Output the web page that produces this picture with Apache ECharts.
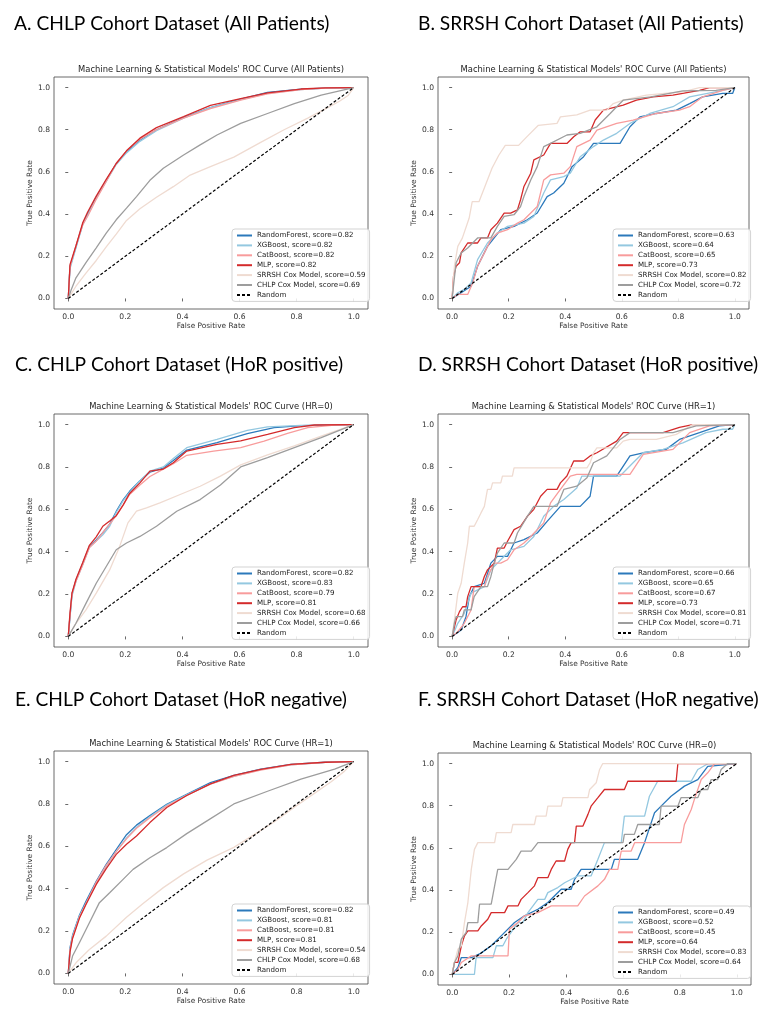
<!DOCTYPE html>
<html><head><meta charset="utf-8">
<script src="https://cdn.jsdelivr.net/npm/echarts@6/dist/echarts.min.js"></script>
<style>html,body{margin:0;padding:0;background:#fff}#c{width:774px;height:1012px}</style>
</head><body><div id="c"></div>
<script>
// ---------- tick labels ----------
const xTicks = [0, 0.2, 0.4, 0.6, 0.8, 1.0];
const yTicks = [0, 0.2, 0.4, 0.6, 0.8, 1.0];
const modelNames = ['RandomForest', 'XGBoost', 'CatBoost', 'MLP', 'SRRSH Cox Model', 'CHLP Cox Model'];
const randomLine = [[0, 0], [1, 1]];

// ---------- A. CHLP, all patients ----------
const A_scores = [0.82, 0.82, 0.82, 0.82, 0.59, 0.69];
const A_rf = [[0,0],[0.006,0.15],[0.027,0.245],[0.051,0.355],[0.068,0.40],[0.098,0.48],[0.133,0.56],[0.168,0.64],[0.204,0.695],[0.251,0.75],[0.309,0.80],[0.404,0.858],[0.498,0.905],[0.604,0.945],[0.698,0.977],[0.815,0.992],[0.9,0.997],[1,1]];
const A_xgb = [[0,0],[0.006,0.14],[0.027,0.24],[0.051,0.35],[0.068,0.395],[0.098,0.475],[0.133,0.555],[0.168,0.635],[0.204,0.69],[0.251,0.745],[0.309,0.795],[0.404,0.855],[0.498,0.905],[0.604,0.943],[0.698,0.972],[0.815,0.99],[0.9,0.997],[1,1]];
const A_cat = [[0,0],[0.006,0.15],[0.027,0.25],[0.051,0.35],[0.068,0.39],[0.098,0.47],[0.133,0.555],[0.168,0.64],[0.204,0.70],[0.251,0.755],[0.309,0.80],[0.404,0.855],[0.498,0.9],[0.604,0.94],[0.698,0.97],[0.815,0.99],[0.9,0.997],[1,1]];
const A_mlp = [[0,0],[0.006,0.16],[0.027,0.25],[0.051,0.36],[0.068,0.41],[0.098,0.485],[0.133,0.565],[0.168,0.64],[0.204,0.70],[0.251,0.76],[0.309,0.81],[0.404,0.862],[0.498,0.915],[0.604,0.947],[0.698,0.975],[0.815,0.993],[0.9,0.998],[1,1]];
const A_srrsh = [[0,0],[0.027,0.058],[0.062,0.12],[0.098,0.18],[0.133,0.245],[0.168,0.305],[0.204,0.37],[0.251,0.425],[0.309,0.48],[0.368,0.53],[0.427,0.585],[0.498,0.625],[0.58,0.67],[0.674,0.74],[0.756,0.80],[0.839,0.855],[0.909,0.905],[0.95,0.935],[0.98,0.962],[1,1]];
const A_chlp = [[0,0],[0.01,0.04],[0.027,0.098],[0.062,0.17],[0.098,0.24],[0.133,0.31],[0.168,0.373],[0.204,0.428],[0.239,0.483],[0.286,0.56],[0.333,0.617],[0.404,0.68],[0.462,0.728],[0.521,0.775],[0.604,0.83],[0.698,0.877],[0.792,0.924],[0.886,0.964],[1,1]];

// ---------- B. SRRSH, all patients ----------
const B_scores = [0.63, 0.64, 0.65, 0.73, 0.82, 0.72];
const B_rf = [[0,0],[0.032,0.027],[0.067,0.058],[0.09,0.153],[0.125,0.247],[0.172,0.326],[0.219,0.342],[0.266,0.373],[0.301,0.405],[0.336,0.483],[0.359,0.5],[0.395,0.546],[0.424,0.625],[0.465,0.672],[0.5,0.735],[0.594,0.735],[0.629,0.814],[0.664,0.861],[0.722,0.877],[0.793,0.893],[0.84,0.924],[0.886,0.956],[0.957,0.972],[0.992,0.972],[1,1]];
const B_xgb = [[0,0],[0.02,0.027],[0.043,0.043],[0.067,0.074],[0.09,0.184],[0.125,0.263],[0.16,0.31],[0.196,0.342],[0.254,0.357],[0.289,0.389],[0.324,0.5],[0.348,0.562],[0.395,0.578],[0.418,0.594],[0.453,0.672],[0.5,0.72],[0.535,0.751],[0.582,0.783],[0.629,0.83],[0.699,0.877],[0.781,0.909],[0.84,0.956],[0.957,0.987],[1,1]];
const B_cat = [[0,0],[0.02,0.019],[0.055,0.019],[0.073,0.074],[0.09,0.153],[0.114,0.216],[0.137,0.279],[0.16,0.31],[0.196,0.326],[0.231,0.357],[0.254,0.373],[0.278,0.405],[0.301,0.436],[0.324,0.562],[0.348,0.586],[0.395,0.594],[0.418,0.625],[0.441,0.72],[0.488,0.751],[0.512,0.798],[0.582,0.83],[0.64,0.846],[0.722,0.877],[0.804,0.893],[0.84,0.909],[0.886,0.956],[0.957,0.987],[1,1]];
const B_mlp = [[0,0],[0.005,0.106],[0.014,0.153],[0.026,0.169],[0.032,0.216],[0.055,0.263],[0.09,0.263],[0.102,0.287],[0.125,0.287],[0.137,0.326],[0.16,0.357],[0.184,0.405],[0.207,0.405],[0.231,0.42],[0.242,0.468],[0.254,0.531],[0.278,0.594],[0.289,0.657],[0.324,0.68],[0.348,0.735],[0.406,0.735],[0.43,0.767],[0.453,0.79],[0.488,0.79],[0.506,0.846],[0.535,0.893],[0.605,0.917],[0.652,0.94],[0.711,0.956],[0.781,0.964],[0.875,0.987],[0.91,1],[1,1]];
const B_srrsh = [[0,0],[0.003,0.06],[0.008,0.153],[0.02,0.247],[0.036,0.286],[0.06,0.38],[0.071,0.459],[0.095,0.459],[0.118,0.538],[0.141,0.617],[0.165,0.679],[0.188,0.726],[0.235,0.726],[0.264,0.766],[0.305,0.821],[0.371,0.83],[0.383,0.861],[0.441,0.87],[0.488,0.893],[0.547,0.893],[0.57,0.924],[0.605,0.94],[0.687,0.964],[0.816,0.98],[0.875,1],[1,1]];
const B_chlp = [[0,0],[0.006,0.074],[0.014,0.169],[0.032,0.216],[0.055,0.239],[0.09,0.287],[0.137,0.287],[0.16,0.342],[0.184,0.389],[0.219,0.397],[0.242,0.436],[0.254,0.483],[0.278,0.562],[0.301,0.625],[0.324,0.72],[0.348,0.735],[0.406,0.775],[0.453,0.783],[0.512,0.814],[0.559,0.877],[0.582,0.909],[0.605,0.94],[0.703,0.956],[0.816,0.984],[0.933,0.987],[1,1]];

// ---------- C. CHLP, HoR positive ----------
const C_scores = [0.82, 0.83, 0.79, 0.81, 0.68, 0.66];
const C_rf = [[0,0],[0.006,0.093],[0.013,0.2],[0.027,0.265],[0.051,0.345],[0.074,0.425],[0.098,0.455],[0.121,0.49],[0.145,0.53],[0.168,0.59],[0.192,0.645],[0.215,0.685],[0.251,0.735],[0.286,0.775],[0.333,0.795],[0.368,0.83],[0.415,0.88],[0.521,0.915],[0.627,0.957],[0.721,0.986],[0.815,0.995],[1,1]];
const C_xgb = [[0,0],[0.006,0.09],[0.013,0.19],[0.027,0.26],[0.051,0.34],[0.074,0.42],[0.098,0.45],[0.121,0.48],[0.145,0.52],[0.168,0.585],[0.192,0.64],[0.215,0.68],[0.251,0.735],[0.286,0.78],[0.333,0.80],[0.368,0.84],[0.415,0.891],[0.521,0.93],[0.627,0.973],[0.698,0.989],[0.815,0.996],[1,1]];
const C_cat = [[0,0],[0.006,0.1],[0.013,0.2],[0.027,0.26],[0.051,0.34],[0.074,0.42],[0.098,0.45],[0.121,0.49],[0.145,0.53],[0.168,0.57],[0.192,0.62],[0.215,0.67],[0.251,0.715],[0.286,0.755],[0.333,0.79],[0.368,0.815],[0.415,0.855],[0.509,0.875],[0.604,0.891],[0.686,0.922],[0.768,0.959],[0.839,0.986],[0.933,0.998],[1,1]];
const C_mlp = [[0,0],[0.006,0.11],[0.013,0.205],[0.027,0.27],[0.051,0.35],[0.074,0.43],[0.098,0.47],[0.121,0.52],[0.145,0.545],[0.168,0.57],[0.192,0.62],[0.215,0.675],[0.251,0.725],[0.286,0.78],[0.333,0.79],[0.368,0.82],[0.415,0.875],[0.521,0.907],[0.604,0.923],[0.698,0.954],[0.792,0.986],[0.862,0.998],[1,1]];
const C_srrsh = [[0,0],[0.027,0.062],[0.062,0.125],[0.098,0.204],[0.145,0.314],[0.18,0.425],[0.209,0.536],[0.239,0.591],[0.274,0.607],[0.321,0.63],[0.392,0.67],[0.462,0.709],[0.533,0.757],[0.604,0.81],[0.698,0.857],[0.792,0.9],[0.886,0.946],[1,1]];
const C_chlp = [[0,0],[0.027,0.062],[0.062,0.156],[0.098,0.251],[0.133,0.33],[0.168,0.409],[0.204,0.441],[0.251,0.472],[0.309,0.52],[0.38,0.591],[0.462,0.646],[0.533,0.715],[0.604,0.8],[0.698,0.844],[0.792,0.891],[0.886,0.938],[1,1]];

// ---------- D. SRRSH, HoR positive ----------
const D_scores = [0.66, 0.65, 0.67, 0.73, 0.81, 0.71];
const D_rf = [[0,0],[0.032,0.03],[0.049,0.093],[0.061,0.188],[0.078,0.235],[0.114,0.251],[0.137,0.346],[0.16,0.378],[0.196,0.378],[0.219,0.441],[0.254,0.457],[0.301,0.488],[0.336,0.543],[0.383,0.614],[0.453,0.614],[0.488,0.662],[0.5,0.757],[0.582,0.757],[0.629,0.852],[0.676,0.867],[0.757,0.883],[0.804,0.93],[0.875,0.962],[0.945,0.994],[1,1]];
const D_xgb = [[0,0],[0.02,0.062],[0.043,0.109],[0.067,0.204],[0.114,0.235],[0.137,0.314],[0.172,0.362],[0.207,0.409],[0.254,0.425],[0.289,0.472],[0.324,0.567],[0.359,0.614],[0.395,0.646],[0.441,0.701],[0.459,0.757],[0.594,0.757],[0.64,0.82],[0.676,0.867],[0.746,0.883],[0.816,0.914],[0.898,0.962],[0.957,0.978],[0.992,0.978],[1,1]];
const D_cat = [[0,0],[0.02,0.022],[0.043,0.062],[0.067,0.125],[0.078,0.235],[0.114,0.235],[0.125,0.283],[0.149,0.346],[0.172,0.346],[0.196,0.362],[0.219,0.409],[0.254,0.441],[0.278,0.472],[0.324,0.536],[0.348,0.63],[0.383,0.694],[0.418,0.757],[0.441,0.765],[0.629,0.765],[0.676,0.859],[0.781,0.883],[0.84,0.962],[0.91,0.994],[1,1]];
const D_mlp = [[0,0],[0.014,0.077],[0.026,0.117],[0.037,0.14],[0.049,0.14],[0.055,0.188],[0.067,0.235],[0.102,0.235],[0.114,0.283],[0.125,0.314],[0.149,0.346],[0.16,0.417],[0.184,0.417],[0.196,0.449],[0.219,0.504],[0.242,0.52],[0.266,0.567],[0.289,0.6],[0.313,0.662],[0.336,0.694],[0.371,0.694],[0.383,0.725],[0.406,0.757],[0.43,0.828],[0.465,0.828],[0.488,0.852],[0.512,0.867],[0.582,0.922],[0.605,0.962],[0.746,0.962],[0.804,0.987],[0.851,1],[1,1]];
const D_srrsh = [[0,0],[0.008,0.077],[0.02,0.204],[0.032,0.251],[0.043,0.346],[0.055,0.441],[0.061,0.52],[0.078,0.52],[0.09,0.551],[0.102,0.583],[0.114,0.614],[0.125,0.694],[0.137,0.694],[0.143,0.725],[0.172,0.725],[0.178,0.757],[0.213,0.757],[0.219,0.796],[0.477,0.796],[0.488,0.82],[0.5,0.867],[0.512,0.89],[0.582,0.89],[0.605,0.922],[0.629,0.93],[0.722,0.93],[0.793,0.954],[0.851,1],[1,1]];
const D_chlp = [[0,0],[0.008,0.062],[0.014,0.093],[0.037,0.093],[0.043,0.125],[0.067,0.125],[0.078,0.188],[0.102,0.235],[0.125,0.235],[0.137,0.283],[0.149,0.346],[0.16,0.393],[0.184,0.441],[0.219,0.441],[0.231,0.488],[0.266,0.567],[0.289,0.614],[0.371,0.614],[0.395,0.694],[0.441,0.709],[0.477,0.749],[0.5,0.82],[0.547,0.852],[0.57,0.89],[0.594,0.93],[0.629,0.962],[0.781,0.962],[0.863,0.994],[1,1]];

// ---------- E. CHLP, HoR negative ----------
const E_scores = [0.82, 0.81, 0.81, 0.81, 0.54, 0.68];
const E_rf = [[0,0],[0.006,0.12],[0.015,0.18],[0.039,0.275],[0.062,0.34],[0.098,0.435],[0.133,0.515],[0.168,0.585],[0.204,0.655],[0.239,0.70],[0.286,0.745],[0.345,0.798],[0.415,0.846],[0.498,0.901],[0.58,0.935],[0.674,0.964],[0.78,0.987],[0.9,0.997],[1,1]];
const E_xgb = [[0,0],[0.006,0.11],[0.015,0.175],[0.039,0.27],[0.062,0.33],[0.098,0.425],[0.133,0.505],[0.168,0.575],[0.204,0.64],[0.239,0.69],[0.286,0.74],[0.345,0.795],[0.415,0.843],[0.498,0.895],[0.58,0.93],[0.674,0.962],[0.78,0.985],[0.9,0.996],[1,1]];
const E_cat = [[0,0],[0.006,0.11],[0.015,0.17],[0.039,0.265],[0.062,0.33],[0.098,0.43],[0.133,0.51],[0.168,0.575],[0.204,0.635],[0.239,0.685],[0.286,0.735],[0.345,0.79],[0.415,0.84],[0.498,0.893],[0.58,0.93],[0.674,0.96],[0.78,0.985],[0.9,0.996],[1,1]];
const E_mlp = [[0,0],[0.006,0.1],[0.015,0.165],[0.039,0.26],[0.062,0.325],[0.098,0.42],[0.133,0.495],[0.168,0.562],[0.204,0.61],[0.239,0.649],[0.286,0.712],[0.345,0.783],[0.415,0.84],[0.498,0.895],[0.58,0.935],[0.674,0.963],[0.78,0.987],[0.9,0.997],[1,1]];
const E_srrsh = [[0,0],[0.027,0.05],[0.074,0.113],[0.133,0.176],[0.204,0.265],[0.262,0.33],[0.333,0.405],[0.404,0.47],[0.486,0.535],[0.58,0.595],[0.651,0.655],[0.721,0.715],[0.792,0.785],[0.862,0.85],[0.921,0.905],[0.968,0.955],[1,1]];
const E_chlp = [[0,0],[0.015,0.082],[0.039,0.145],[0.074,0.239],[0.109,0.334],[0.145,0.381],[0.192,0.444],[0.227,0.491],[0.286,0.546],[0.345,0.594],[0.415,0.66],[0.486,0.72],[0.58,0.8],[0.698,0.86],[0.815,0.917],[0.933,0.964],[1,1]];

// ---------- F. SRRSH, HoR negative ----------
const F_scores = [0.49, 0.52, 0.45, 0.64, 0.83, 0.64];
const F_rf = [[0,0],[0.02,0.033],[0.032,0.08],[0.067,0.08],[0.1,0.1],[0.137,0.136],[0.172,0.183],[0.219,0.246],[0.254,0.278],[0.301,0.309],[0.336,0.341],[0.383,0.404],[0.418,0.404],[0.43,0.451],[0.453,0.498],[0.559,0.498],[0.57,0.546],[0.652,0.546],[0.676,0.625],[0.711,0.767],[0.734,0.798],[0.769,0.845],[0.816,0.893],[0.863,0.924],[0.898,0.987],[1,1]];
const F_xgb = [[0,0],[0.078,0],[0.084,0.08],[0.143,0.08],[0.155,0.136],[0.178,0.136],[0.19,0.167],[0.207,0.199],[0.231,0.246],[0.248,0.246],[0.266,0.293],[0.301,0.356],[0.325,0.356],[0.336,0.388],[0.371,0.412],[0.395,0.435],[0.441,0.467],[0.488,0.467],[0.512,0.546],[0.535,0.625],[0.594,0.625],[0.605,0.751],[0.676,0.751],[0.693,0.845],[0.722,0.916],[0.84,0.916],[0.863,0.972],[0.9,1],[1,1]];
const F_cat = [[0,0],[0.02,0.025],[0.032,0.057],[0.067,0.088],[0.196,0.088],[0.201,0.215],[0.231,0.246],[0.254,0.278],[0.301,0.293],[0.348,0.325],[0.441,0.325],[0.465,0.372],[0.512,0.42],[0.535,0.451],[0.553,0.498],[0.582,0.498],[0.594,0.585],[0.629,0.585],[0.641,0.625],[0.804,0.625],[0.816,0.711],[0.84,0.782],[0.851,0.83],[0.875,0.924],[0.898,0.956],[0.922,1],[1,1]];
const F_mlp = [[0,0],[0.008,0.057],[0.02,0.057],[0.032,0.136],[0.043,0.183],[0.055,0.207],[0.09,0.207],[0.102,0.23],[0.125,0.262],[0.137,0.293],[0.184,0.293],[0.196,0.325],[0.231,0.325],[0.242,0.356],[0.266,0.388],[0.289,0.42],[0.301,0.459],[0.336,0.459],[0.348,0.498],[0.365,0.538],[0.395,0.538],[0.406,0.593],[0.418,0.625],[0.43,0.625],[0.436,0.703],[0.459,0.703],[0.477,0.759],[0.488,0.798],[0.512,0.838],[0.535,0.877],[0.605,0.877],[0.617,0.916],[0.787,0.916],[0.793,1],[1,1]];
const F_srrsh = [[0,0],[0.008,0.057],[0.02,0.12],[0.032,0.136],[0.043,0.246],[0.055,0.341],[0.067,0.498],[0.078,0.593],[0.09,0.625],[0.149,0.625],[0.155,0.672],[0.207,0.672],[0.213,0.711],[0.289,0.711],[0.295,0.751],[0.33,0.751],[0.336,0.798],[0.383,0.798],[0.389,0.838],[0.477,0.838],[0.483,0.877],[0.506,0.909],[0.518,0.972],[0.529,1],[1,1]];
const F_chlp = [[0,0],[0.008,0.057],[0.02,0.088],[0.032,0.167],[0.049,0.199],[0.055,0.246],[0.09,0.246],[0.096,0.333],[0.137,0.333],[0.149,0.42],[0.16,0.498],[0.196,0.498],[0.225,0.546],[0.242,0.585],[0.278,0.585],[0.301,0.625],[0.6,0.625],[0.605,0.664],[0.64,0.664],[0.652,0.711],[0.728,0.711],[0.734,0.798],[0.793,0.798],[0.804,0.838],[0.863,0.838],[0.875,0.877],[0.898,0.877],[0.91,0.924],[0.933,0.924],[0.945,0.972],[0.968,1],[1,1]];

// ---------- styling ----------
const colors = ['#2b79bb', '#94c8e0', '#f89c9c', '#d42a2b', '#efdbd1', '#9d9d9d'];
const panelFont = 'Lato';
const plotFont = 'DejaVu Sans';

const panels = [
  { label: 'A. CHLP Cohort Dataset (All Patients)', sub: "Machine Learning & Statistical Models' ROC Curve (All Patients)",
    curves: [A_rf, A_xgb, A_cat, A_mlp, A_srrsh, A_chlp], scores: A_scores,
    grid: { left: 54, top: 77, width: 314, height: 232 }, labelPos: [14, 11], legendPos: [232, 229] },
  { label: 'B. SRRSH Cohort Dataset (All Patients)', sub: "Machine Learning & Statistical Models' ROC Curve (All Patients)",
    curves: [B_rf, B_xgb, B_cat, B_mlp, B_srrsh, B_chlp], scores: B_scores,
    grid: { left: 438, top: 77, width: 311, height: 232 }, labelPos: [418, 11], legendPos: [613, 229] },
  { label: 'C. CHLP Cohort Dataset (HoR positive)', sub: "Machine Learning & Statistical Models' ROC Curve (HR=0)",
    curves: [C_rf, C_xgb, C_cat, C_mlp, C_srrsh, C_chlp], scores: C_scores,
    grid: { left: 54, top: 414, width: 314, height: 233 }, labelPos: [15, 352], legendPos: [232, 567] },
  { label: 'D. SRRSH Cohort Dataset (HoR positive)', sub: "Machine Learning & Statistical Models' ROC Curve (HR=1)",
    curves: [D_rf, D_xgb, D_cat, D_mlp, D_srrsh, D_chlp], scores: D_scores,
    grid: { left: 438, top: 414, width: 311, height: 233 }, labelPos: [418, 352], legendPos: [613, 567] },
  { label: 'E. CHLP Cohort Dataset (HoR negative)', sub: "Machine Learning & Statistical Models' ROC Curve (HR=1)",
    curves: [E_rf, E_xgb, E_cat, E_mlp, E_srrsh, E_chlp], scores: E_scores,
    grid: { left: 54, top: 751, width: 314, height: 233 }, labelPos: [15, 687], legendPos: [232, 904] },
  { label: 'F. SRRSH Cohort Dataset (HoR negative)', sub: "Machine Learning & Statistical Models' ROC Curve (HR=0)",
    curves: [F_rf, F_xgb, F_cat, F_mlp, F_srrsh, F_chlp], scores: F_scores,
    grid: { left: 438, top: 753, width: 313, height: 232 }, labelPos: [418, 687], legendPos: [613, 906] }
];

const option = { animation: false, backgroundColor: '#fff', title: [], grid: [], xAxis: [], yAxis: [], legend: [], series: [] };

panels.forEach((p, i) => {
  option.title.push({ text: p.label, left: p.labelPos[0], top: p.labelPos[1] + 3, padding: 0,
    textStyle: { fontFamily: panelFont, fontSize: 19.2, fontWeight: 'normal', color: '#000' } });
  option.title.push({ text: p.sub, left: p.grid.left + p.grid.width / 2, top: p.grid.top - 11, textAlign: 'center',
    padding: 0, textStyle: { fontFamily: plotFont, fontSize: 8.4, fontWeight: 'normal', color: '#222' } });
  option.grid.push(Object.assign({ show: true, borderColor: '#444', borderWidth: 0.8, backgroundColor: '#fff' }, p.grid));
  const axisCommon = {
    type: 'value', gridIndex: i, min: -0.05, max: 1.05, nameLocation: 'middle',
    nameTextStyle: { fontFamily: plotFont, fontSize: 7.4, color: '#333' },
    axisLine: { show: false }, splitLine: { show: false },
    axisTick: { show: true, inside: false, length: 3, lineStyle: { color: '#444', width: 0.8 } },
    axisLabel: { fontFamily: plotFont, fontSize: 7.6, color: '#333', margin: 4, formatter: v => v.toFixed(1) }
  };
  option.xAxis.push(Object.assign({}, axisCommon, { name: 'False Positive Rate', nameGap: 14,
    axisTick: Object.assign({}, axisCommon.axisTick, { customValues: xTicks }),
    axisLabel: Object.assign({}, axisCommon.axisLabel, { customValues: xTicks }) }));
  option.yAxis.push(Object.assign({}, axisCommon, { name: 'True Positive Rate', nameGap: 20,
    axisTick: Object.assign({}, axisCommon.axisTick, { customValues: yTicks }),
    axisLabel: Object.assign({}, axisCommon.axisLabel, { customValues: yTicks }) }));
  const names = [];
  p.curves.forEach((c, k) => {
    const nm = modelNames[k] + ', score=' + p.scores[k].toFixed(2);
    names.push(nm);
    option.series.push({ type: 'line', name: nm, xAxisIndex: i, yAxisIndex: i, data: c, symbol: 'none',
      lineStyle: { color: colors[k], width: 1.3 }, itemStyle: { color: colors[k] }, silent: true });
  });
  names.push('Random');
  option.series.push({ type: 'line', name: 'Random', xAxisIndex: i, yAxisIndex: i, data: randomLine, symbol: 'none',
    lineStyle: { color: '#000', width: 1.2, type: [3, 2] }, itemStyle: { color: '#000' }, silent: true });
  option.legend.push({ data: names, orient: 'vertical', left: p.legendPos[0], top: p.legendPos[1],
    padding: [3, 4, 3, 4], itemWidth: 15, itemHeight: 8, itemGap: 2.9, selectedMode: false,
    itemStyle: { opacity: 0 },
    backgroundColor: 'rgba(255,255,255,0.85)', borderColor: '#d3d3d3', borderWidth: 1, borderRadius: 3,
    textStyle: { fontFamily: plotFont, fontSize: 7.1, color: '#222', padding: [0, 0, 0, 0] } });
});

const chart = echarts.init(document.getElementById('c'), null, { renderer: 'canvas' });
chart.setOption(option);
</script></body></html>
